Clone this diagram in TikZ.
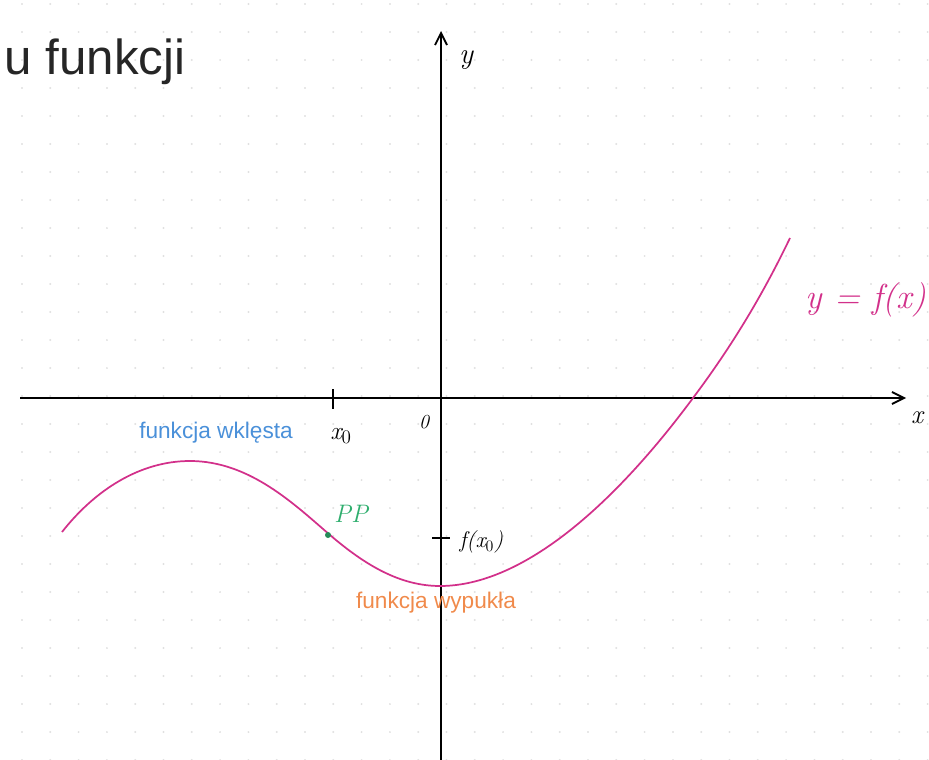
\documentclass[tikz,border=0pt]{standalone}
\usepackage{fontspec}
\setmainfont{Liberation Sans}
\usetikzlibrary{arrows.meta,positioning,calc}
\definecolor{curvepink}{HTML}{D2308A}
\definecolor{concblue}{HTML}{4A90D9}
\definecolor{convorange}{HTML}{F08A4B}
\definecolor{pgreen}{HTML}{2FAE6E}
\newfontfamily\handfont{Latin Modern Roman}

\begin{document}
\begin{tikzpicture}[x=0.0264cm, y=-0.0264cm]
\useasboundingbox (0,0) rectangle (929,760);
% dotted paper
\foreach \i in {0,...,32} {
  \foreach \j in {0,...,27} {
    \fill[black!12] (22+28.3*\i, 4+28*\j) circle (1.1);
  }
}
% axes
\draw[line width=1.4pt, -{Straight Barb[length=9pt, width=9pt]}] (20,398) -- (906,398) coordinate (xend);
\draw[line width=1.4pt, -{Straight Barb[length=9pt, width=9pt]}] (441,760) -- (441,31) coordinate (yend);
\node[font=\handfont\itshape\fontsize{20}{20}\selectfont] (xlab) at (917,418) {x};
\node[font=\handfont\itshape\fontsize{22}{22}\selectfont] (ylab) at (466,60) {y};
\node[font=\handfont\itshape\fontsize{15}{15}\selectfont] (orig) at (424,422) {0};
% title
\node[anchor=east, font=\fontsize{37}{37}\selectfont, text=black!85] (title) at (190,62) {u funkcji};
% the function
\draw[curvepink, line width=1.3pt] (62,532) .. controls (95,490) and (140,461) .. (190,461)
  .. controls (250,461) and (295,505) .. (330,535)
  .. controls (365,565) and (400,586) .. (440,586)
  .. controls (520,586) and (610,510) .. (693,398)
  .. controls (735,342) and (765,290) .. (790,238);
\node[text=curvepink, font=\handfont\itshape\fontsize{26}{26}\selectfont] (flab) at (866,300) {y = f(x)};
% point P and x0, f(x0)
\coordinate (xz) at (333,398);
\coordinate (fz) at (441,538);
\draw[line width=1pt] ($(xz)+(0,-9)$) -- ($(xz)+(0,11)$);
\node[font=\handfont\itshape\fontsize{19}{19}\selectfont] (xzlab) at (341,436) {x$_0$};
\draw[line width=1pt] ($(fz)+(-9,0)$) -- ($(fz)+(9,0)$);
\node[anchor=west, font=\handfont\itshape\fontsize{17}{17}\selectfont] (fzlab) at (455,542) {f(x$_0$)};
\fill[pgreen!80!black] (328,535) circle (3) coordinate (P);
\node[text=pgreen, font=\handfont\itshape\fontsize{19}{19}\selectfont] (plab) at (351,514) {PP};
% labels of concavity
\node[text=concblue, font=\fontsize{17}{17}\selectfont] (wkl) at (216,433) {funkcja wklęsta};
\node[text=convorange, font=\fontsize{17}{17}\selectfont] (wyp) at (436,603) {funkcja wypukła};
\end{tikzpicture}
\end{document}
